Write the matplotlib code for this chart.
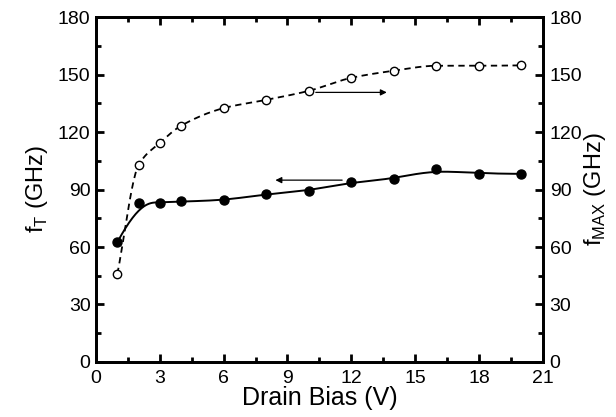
import numpy as np
import matplotlib.pyplot as plt
from matplotlib.ticker import MultipleLocator

plt.rcParams['font.family'] = ['Liberation Sans', 'DejaVu Sans']

# data
bias = [1, 2, 3, 4, 6, 8, 10, 12, 14, 16, 18, 20]
ft = [62.5, 83.2, 83.2, 83.8, 84.3, 87.6, 89.4, 93.8, 95.5, 100.8, 98.2, 98.2]
fmax = [45.9, 102.8, 114.4, 123.3, 132.5, 136.8, 141.5, 148.3, 152.0, 154.6, 154.6, 154.8]


def pchip(x, y, xs):
    # monotone cubic for the smooth connecting line
    x = np.asarray(x, float)
    y = np.asarray(y, float)
    h = np.diff(x)
    d = np.diff(y) / h
    m = np.zeros_like(y)
    for k in range(1, len(x) - 1):
        if d[k - 1] * d[k] > 0:
            w1 = 2 * h[k] + h[k - 1]
            w2 = h[k] + 2 * h[k - 1]
            m[k] = (w1 + w2) / (w1 / d[k - 1] + w2 / d[k])
    m[0] = d[0]
    m[-1] = d[-1]
    idx = np.clip(np.searchsorted(x, xs) - 1, 0, len(x) - 2)
    t = (xs - x[idx]) / h[idx]
    h00 = 2 * t**3 - 3 * t**2 + 1
    h10 = t**3 - 2 * t**2 + t
    h01 = -2 * t**3 + 3 * t**2
    h11 = t**3 - t**2
    return h00 * y[idx] + h10 * h[idx] * m[idx] + h01 * y[idx + 1] + h11 * h[idx] * m[idx + 1]


def bspline(x, y, n=400, k=3):
    # clamped B-spline with the points as control points (Origin style)
    P = np.column_stack([x, y]).astype(float)
    nc = len(P)
    knots = np.concatenate([np.zeros(k), np.linspace(0, 1, nc - k + 1), np.ones(k)])
    u = np.linspace(0, 1 - 1e-9, n)
    N = np.array([((knots[i] <= u) & (u < knots[i + 1])).astype(float)
                  for i in range(len(knots) - 1)])
    for p in range(1, k + 1):
        Nn = np.zeros((len(knots) - p - 1, n))
        for i in range(len(knots) - p - 1):
            a = knots[i + p] - knots[i]
            b = knots[i + p + 1] - knots[i + 1]
            if a > 0:
                Nn[i] += (u - knots[i]) / a * N[i]
            if b > 0:
                Nn[i] += (knots[i + p + 1] - u) / b * N[i + 1]
        N = Nn
    C = N.T @ P
    C[-1] = P[-1]
    return C[:, 0], C[:, 1]


xs = np.linspace(1, 20, 400)

fig = plt.figure(figsize=(6.16, 4.17), dpi=100)
ax = fig.add_axes([0.156, 0.132, 0.725, 0.827])
ax2 = ax.twinx()

bx, by = bspline(bias, ft)
ax.plot(bx, by, color='black', lw=1.4)
ax.plot(bias, ft, 'o', color='black', ms=6.5)

ax2.plot(xs, pchip(bias, fmax, xs), color='black', lw=1.3, ls=(0, (3.5, 2.5)))
ax2.plot(bias, fmax, 'o', mfc='white', mec='black', mew=1.0, ms=6)

ax.annotate('', xy=(8.3, 94.9), xytext=(11.7, 94.9),
            arrowprops=dict(arrowstyle='-|>', color='black', lw=0.9, mutation_scale=9))
ax2.annotate('', xy=(13.8, 140.7), xytext=(10.2, 140.7),
             arrowprops=dict(arrowstyle='-|>', color='black', lw=0.9, mutation_scale=9))

for a in (ax, ax2):
    a.set_xlim(0, 21)
    a.set_ylim(0, 180)
    a.yaxis.set_major_locator(MultipleLocator(30))
    a.yaxis.set_minor_locator(MultipleLocator(15))
    for s in a.spines.values():
        s.set_linewidth(2)

ax.xaxis.set_major_locator(MultipleLocator(3))
ax.xaxis.set_minor_locator(MultipleLocator(1.5))
ax.tick_params(which='both', direction='in', top=True, width=2, labelsize=14, pad=4)
ax.tick_params(axis='x', pad=5.5)
ax.tick_params(which='major', length=6)
ax.tick_params(which='minor', length=3.5)
ax2.tick_params(which='both', direction='in', width=2, labelsize=14, pad=5)
ax2.tick_params(which='major', length=6)
ax2.tick_params(which='minor', length=3.5)

ax.set_xlabel('Drain Bias (V)', fontsize=18, labelpad=-0.5)
ax.set_ylabel('f$_\\mathregular{T}$ (GHz)', fontsize=17, labelpad=6)
ax2.set_ylabel('f$_\\mathregular{MAX}$ (GHz)', fontsize=17, labelpad=0)

fig.savefig('out.png', dpi=100)
